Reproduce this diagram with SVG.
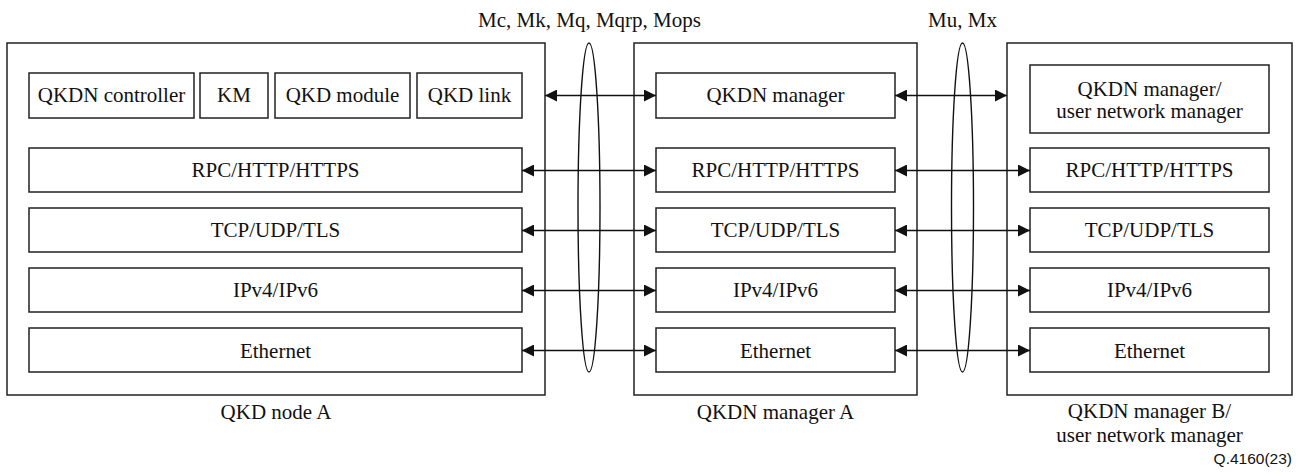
<svg xmlns="http://www.w3.org/2000/svg" width="1305" height="475" viewBox="0 0 1305 475">
<style>
.box{fill:#fff;stroke:#222;stroke-width:1.5}
.t{font-family:"Liberation Serif","Times New Roman",serif;font-size:21px;fill:#111;text-anchor:middle}
.conn{stroke:#111;stroke-width:1.5;fill:none}
.ell{stroke:#111;stroke-width:1.4;fill:none}
.code{font-family:"Liberation Sans",Arial,sans-serif;font-size:15.5px;fill:#111;text-anchor:end}
</style>
<defs>
<marker id="ah" markerUnits="userSpaceOnUse" markerWidth="12" markerHeight="12" refX="12" refY="6" orient="auto-start-reverse">
<path d="M0,0 L12,6 L0,12 z" fill="#111"/>
</marker>
</defs>
<rect width="1305" height="475" fill="#fff"/>

<g id="qkd-node-a">
<rect class="box" x="7" y="43" width="538" height="352"/>
<text class="t" x="276" y="419">QKD node A</text>
</g>
<g id="a-controller"><rect class="box" x="29" y="73" width="165" height="45"/><text class="t" x="111.5" y="102">QKDN controller</text></g>
<g id="a-km"><rect class="box" x="200" y="73" width="68" height="45"/><text class="t" x="234" y="102">KM</text></g>
<g id="a-module"><rect class="box" x="275" y="73" width="135" height="45"/><text class="t" x="342.5" y="102">QKD module</text></g>
<g id="a-link"><rect class="box" x="417" y="73" width="105" height="45"/><text class="t" x="469.5" y="102">QKD link</text></g>
<g id="a-rpc"><rect class="box" x="29" y="148" width="493" height="44"/><text class="t" x="275.5" y="177">RPC/HTTP/HTTPS</text></g>
<g id="a-tcp"><rect class="box" x="29" y="208" width="493" height="44"/><text class="t" x="275.5" y="237">TCP/UDP/TLS</text></g>
<g id="a-ip"><rect class="box" x="29" y="268" width="493" height="44"/><text class="t" x="275.5" y="297">IPv4/IPv6</text></g>
<g id="a-eth"><rect class="box" x="29" y="328" width="493" height="44"/><text class="t" x="275.5" y="358">Ethernet</text></g>

<g id="qkdn-manager-a">
<rect class="box" x="634" y="43" width="283" height="352"/>
<text class="t" x="775.5" y="419">QKDN manager A</text>
</g>
<g id="m-manager"><rect class="box" x="656" y="73" width="239" height="45"/><text class="t" x="775.5" y="102">QKDN manager</text></g>
<g id="m-rpc"><rect class="box" x="656" y="148" width="239" height="44"/><text class="t" x="775.5" y="177">RPC/HTTP/HTTPS</text></g>
<g id="m-tcp"><rect class="box" x="656" y="208" width="239" height="44"/><text class="t" x="775.5" y="237">TCP/UDP/TLS</text></g>
<g id="m-ip"><rect class="box" x="656" y="268" width="239" height="44"/><text class="t" x="775.5" y="297">IPv4/IPv6</text></g>
<g id="m-eth"><rect class="box" x="656" y="328" width="239" height="44"/><text class="t" x="775.5" y="358">Ethernet</text></g>

<g id="qkdn-manager-b">
<rect class="box" x="1007" y="43" width="285" height="352"/>
<text class="t" x="1149.5" y="418">QKDN manager B/</text>
<text class="t" x="1149.5" y="442">user network manager</text>
</g>
<g id="b-manager"><rect class="box" x="1030" y="65" width="239" height="68"/><text class="t" x="1149.5" y="96">QKDN manager/</text><text class="t" x="1149.5" y="118">user network manager</text></g>
<g id="b-rpc"><rect class="box" x="1030" y="148" width="239" height="44"/><text class="t" x="1149.5" y="177">RPC/HTTP/HTTPS</text></g>
<g id="b-tcp"><rect class="box" x="1030" y="208" width="239" height="44"/><text class="t" x="1149.5" y="237">TCP/UDP/TLS</text></g>
<g id="b-ip"><rect class="box" x="1030" y="268" width="239" height="44"/><text class="t" x="1149.5" y="297">IPv4/IPv6</text></g>
<g id="b-eth"><rect class="box" x="1030" y="328" width="239" height="44"/><text class="t" x="1149.5" y="358">Ethernet</text></g>

<g id="connectors">
<line class="conn" x1="545" y1="95.5" x2="656" y2="95.5" marker-start="url(#ah)" marker-end="url(#ah)"/>
<line class="conn" x1="522" y1="170.5" x2="656" y2="170.5" marker-start="url(#ah)" marker-end="url(#ah)"/>
<line class="conn" x1="522" y1="230.5" x2="656" y2="230.5" marker-start="url(#ah)" marker-end="url(#ah)"/>
<line class="conn" x1="522" y1="290.5" x2="656" y2="290.5" marker-start="url(#ah)" marker-end="url(#ah)"/>
<line class="conn" x1="522" y1="350.5" x2="656" y2="350.5" marker-start="url(#ah)" marker-end="url(#ah)"/>
<line class="conn" x1="895" y1="95.5" x2="1007" y2="95.5" marker-start="url(#ah)" marker-end="url(#ah)"/>
<line class="conn" x1="895" y1="170.5" x2="1030" y2="170.5" marker-start="url(#ah)" marker-end="url(#ah)"/>
<line class="conn" x1="895" y1="230.5" x2="1030" y2="230.5" marker-start="url(#ah)" marker-end="url(#ah)"/>
<line class="conn" x1="895" y1="290.5" x2="1030" y2="290.5" marker-start="url(#ah)" marker-end="url(#ah)"/>
<line class="conn" x1="895" y1="350.5" x2="1030" y2="350.5" marker-start="url(#ah)" marker-end="url(#ah)"/>
</g>

<g id="interface-mc">
<ellipse class="ell" cx="589" cy="207.5" rx="11" ry="164.5"/>
<text class="t" x="589.5" y="27">Mc, Mk, Mq, Mqrp, Mops</text>
</g>
<g id="interface-mu">
<ellipse class="ell" cx="962.5" cy="207.5" rx="11" ry="164.5"/>
<text class="t" x="962.5" y="27">Mu, Mx</text>
</g>

<text class="code" x="1292" y="464">Q.4160(23)</text>
</svg>
